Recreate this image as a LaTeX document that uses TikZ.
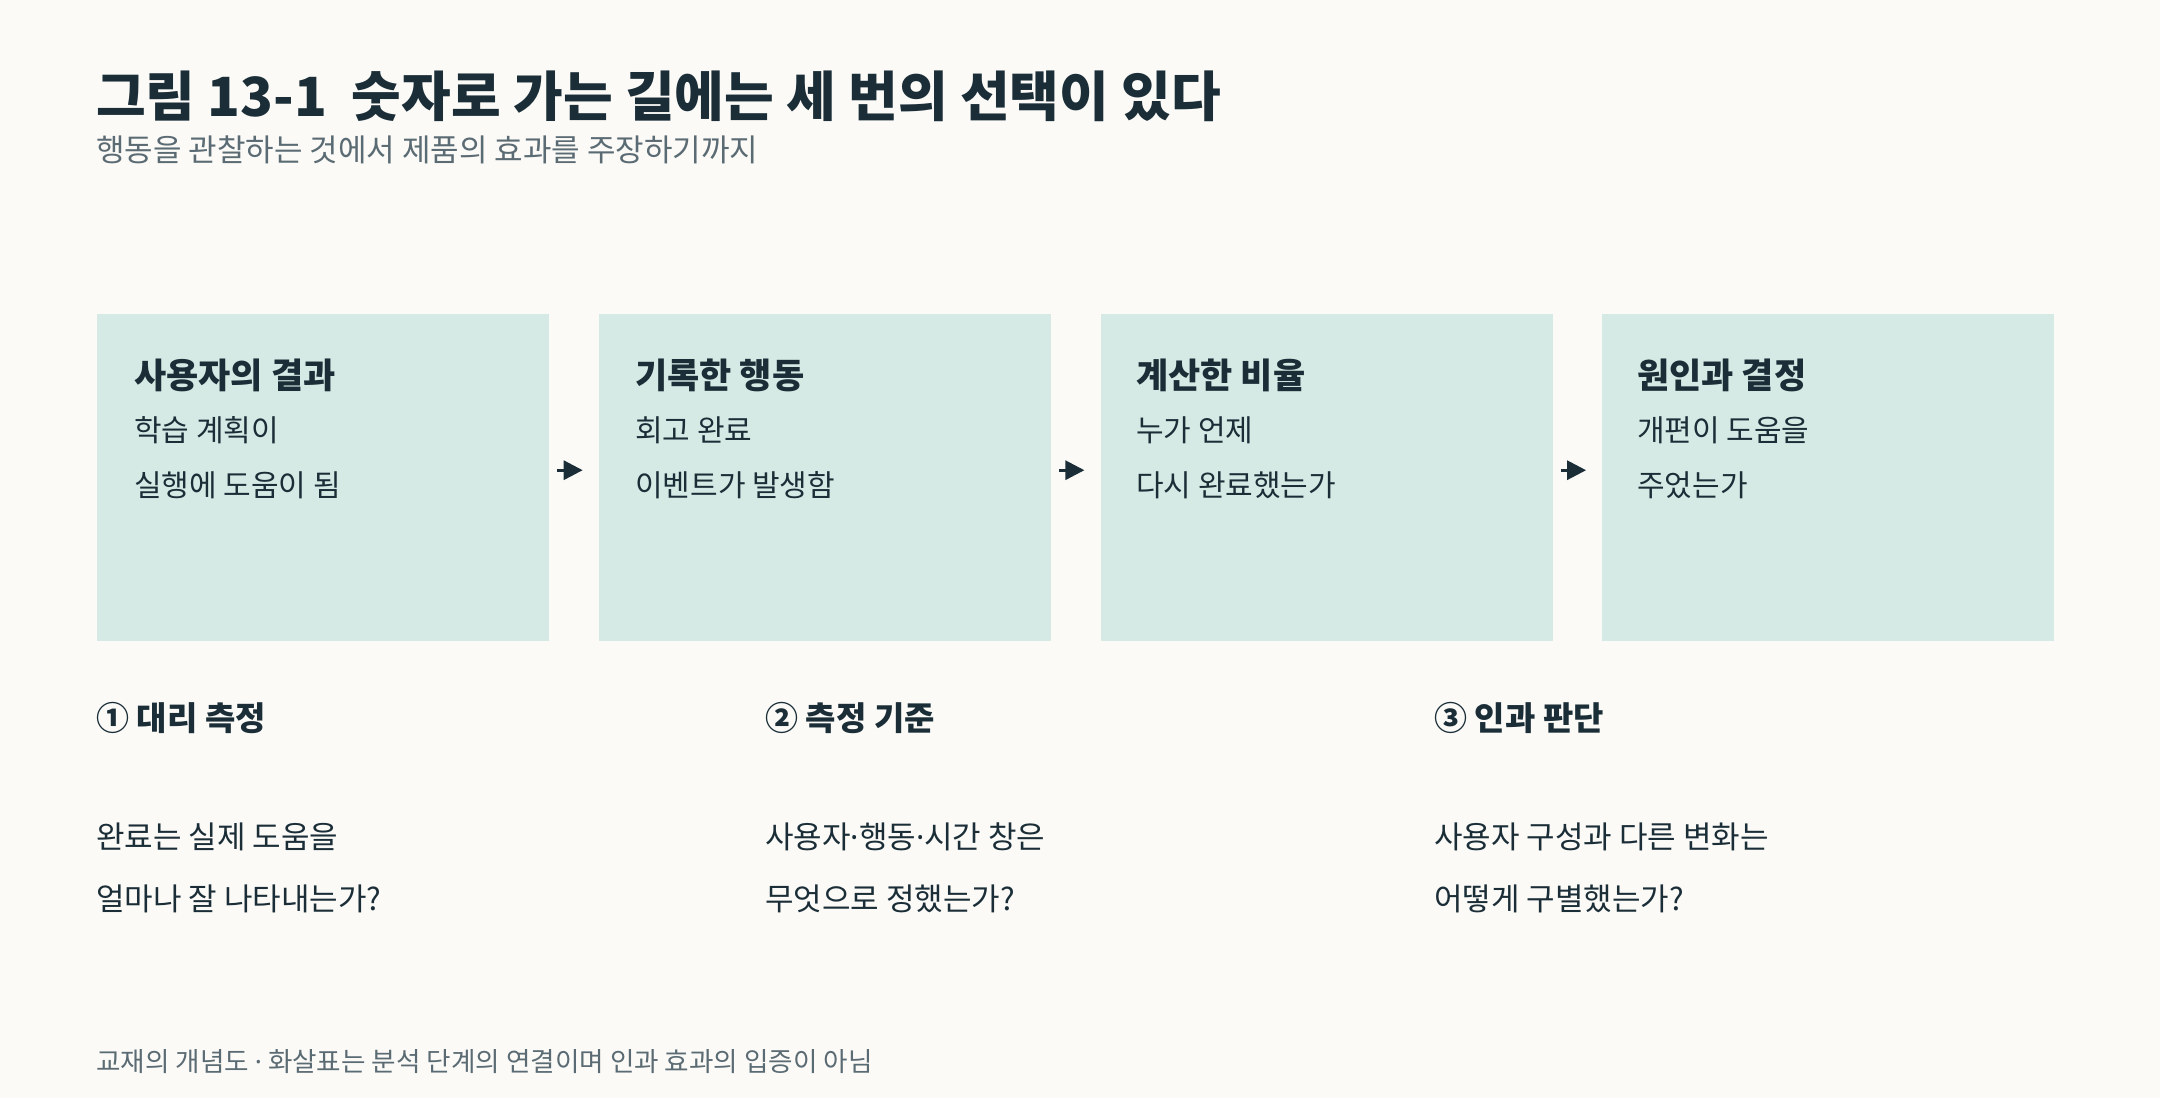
\documentclass[tikz,border=0pt]{standalone}
\usepackage{fontspec}
\setmainfont{Noto Sans CJK KR}
\newfontfamily\dotfont{Noto Sans}
\newcommand{\mdot}{{\dotfont ·}}
\usetikzlibrary{arrows.meta,positioning}
\definecolor{paper}{HTML}{FBFAF7}
\definecolor{boxfill}{HTML}{D6EAE5}
\definecolor{ink}{HTML}{1B2E38}
\definecolor{muted}{HTML}{5B6B73}

\begin{document}
\begin{tikzpicture}
[x=1pt,y=1pt,>={Triangle[length=19pt,width=19pt]},
stage/.style = {fill = boxfill, anchor = north west, inner sep = 0pt, minimum width = 452pt, minimum height = 327pt},
txt/.style = {anchor = base west, inner sep = 0pt, text = ink},
title/.style = {txt, font = \fontsize{54}{60}\selectfont\bfseries},
sub/.style = {txt, text = muted, font = \fontsize{31}{36}\selectfont},
head/.style = {txt, font = \fontsize{35}{40}\selectfont\bfseries},
body/.style = {txt, font = \fontsize{30}{36}\selectfont},
qhead/.style = {txt, font = \fontsize{33}{38}\selectfont\bfseries},
qbody/.style = {txt, font = \fontsize{31}{36}\selectfont},
note/.style = {txt, text = muted, font = \fontsize{26.6}{30}\selectfont},
flow/.style = {->, draw = ink, line width = 3pt, shorten <= 8pt, shorten >= 16pt},]
\fill[paper] (0,0) rectangle (2160,-1098);
\useasboundingbox (0,0) rectangle (2160,-1098);
% title
\node (T) at (96,-116)[title] {그림 13-1\ \ 숫자로 가는 길에는 세 번의 선택이 있다};
\node (S) at (96,-161)[sub] {행동을 관찰하는 것에서 제품의 효과를 주장하기까지};
% four stages
\node (B1) at (97,-314)[stage] {};
\node (B2) [stage, right = 49.3pt of B1.north east, anchor = north west] {};
\node (B3) [stage, right = 49.3pt of B2.north east, anchor = north west] {};
\node (B4) [stage, right = 49.3pt of B3.north east, anchor = north west] {};
\node (H1) at (134,-388)[head] {사용자의 결과};
\node (L1a) at (134,-441)[body] {학습 계획이};
\node (L1b) at (134,-496)[body] {실행에 도움이 됨};
\node (H2) at (635,-388)[head] {기록한 행동};
\node (L2a) at (635,-441)[body] {회고 완료};
\node (L2b) at (635,-496)[body] {이벤트가 발생함};
\node (H3) at (1136,-388)[head] {계산한 비율};
\node (L3a) at (1136,-441)[body] {누가 언제};
\node (L3b) at (1136,-496)[body] {다시 완료했는가};
\node (H4) at (1637,-388)[head] {원인과 결정};
\node (L4a) at (1637,-441)[body] {개편이 도움을};
\node (L4b) at (1637,-496)[body] {주었는가};
\draw[flow] ([yshift=7.5pt]B1.east) -- ([yshift=7.5pt]B2.west);
\draw[flow] ([yshift=7.5pt]B2.east) -- ([yshift=7.5pt]B3.west);
\draw[flow] ([yshift=7.5pt]B3.east) -- ([yshift=7.5pt]B4.west);
% three choices
\node (Q1) at (96,-730)[qhead] {① 대리 측정};
\node (Q1a) at (96,-848)[qbody] {완료는 실제 도움을};
\node (Q1b) at (96,-910)[qbody] {얼마나 잘 나타내는가?};
\node (Q2) at (765,-730)[qhead] {② 측정 기준};
\node (Q2a) at (765,-848)[qbody] {사용자\mdot 행동\mdot 시간 창은};
\node (Q2b) at (765,-910)[qbody] {무엇으로 정했는가?};
\node (Q3) at (1434,-730)[qhead] {③ 인과 판단};
\node (Q3a) at (1434,-848)[qbody] {사용자 구성과 다른 변화는};
\node (Q3b) at (1434,-910)[qbody] {어떻게 구별했는가?};
\node (N) at (96,-1071)[note] {교재의 개념도 \mdot{} 화살표는 분석 단계의 연결이며 인과 효과의 입증이 아님};
\end{tikzpicture}
\end{document}
